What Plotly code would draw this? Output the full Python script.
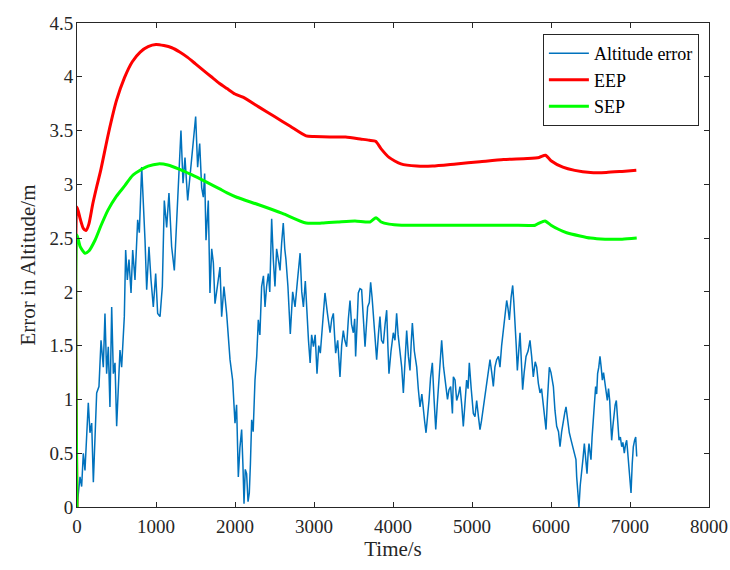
import plotly.graph_objects as go

# ---- Altitude error ----
alt_t = [0, 20, 38, 59, 80, 101, 122, 143, 164, 186, 207, 228, 249, 278, 304, 333, 354, 375, 396, 417,
         439, 460, 481, 502, 523, 544, 565, 599, 616, 637, 658, 684, 705, 734, 768, 789, 819, 840, 861, 882,
         911, 937, 966, 996, 1021, 1051, 1080, 1105, 1135, 1164, 1198, 1232, 1262, 1291, 1316, 1342, 1367, 1401, 1430, 1460,
         1485, 1502, 1527, 1553, 1578, 1599, 1616, 1633, 1662, 1683, 1705, 1726, 1747, 1780, 1810, 1831, 1860, 1894, 1915, 1937,
         1970, 2000, 2020, 2042, 2062, 2084, 2100, 2114, 2130, 2147, 2165, 2181, 2195, 2211, 2230, 2253, 2275, 2295, 2315, 2337,
         2360, 2380, 2400, 2422, 2440, 2464, 2485, 2506, 2527, 2548, 2570, 2590, 2611, 2630, 2645, 2670, 2700, 2730, 2760, 2790,
         2824, 2845, 2866, 2890, 2909, 2930, 2951, 2970, 2993, 3015, 3038, 3060, 3080, 3110, 3139, 3170, 3203, 3225, 3245, 3260,
         3274, 3300, 3329, 3350, 3371, 3390, 3413, 3435, 3456, 3475, 3498, 3515, 3527, 3545, 3561, 3582, 3603, 3625, 3646, 3660,
         3679, 3700, 3717, 3735, 3751, 3775, 3793, 3815, 3835, 3855, 3878, 3900, 3920, 3935, 3949, 3975, 4004, 4025, 4046, 4065,
         4089, 4110, 4131, 4150, 4173, 4195, 4215, 4232, 4245, 4270, 4300, 4320, 4342, 4365, 4384, 4400, 4418, 4440, 4456, 4475,
         4498, 4520, 4541, 4560, 4583, 4600, 4616, 4640, 4667, 4690, 4709, 4730, 4752, 4764, 4785, 4806, 4830, 4848, 4870, 4890,
         4910, 4932, 4950, 4966, 4990, 5017, 5038, 5059, 5080, 5101, 5120, 5143, 5165, 5186, 5210, 5228, 5250, 5270, 5290, 5312,
         5335, 5354, 5375, 5397, 5420, 5439, 5455, 5473, 5495, 5515, 5530, 5544, 5560, 5574, 5590, 5608, 5625, 5641, 5660, 5684,
         5710, 5734, 5755, 5776, 5800, 5819, 5840, 5861, 5880, 5903, 5920, 5937, 5955, 5979, 6000, 6030, 6050, 6072, 6095, 6114,
         6135, 6156, 6175, 6190, 6210, 6232, 6255, 6274, 6295, 6316, 6325, 6340, 6354, 6370, 6388, 6405, 6422, 6440, 6456, 6470,
         6481, 6495, 6506, 6520, 6536, 6550, 6565, 6578, 6590, 6605, 6620, 6635, 6650, 6665, 6684, 6700, 6713, 6728, 6743, 6755,
         6768, 6783, 6798, 6812, 6827, 6845, 6861, 6878, 6895, 6910, 6928, 6943, 6958, 6972, 6987, 7000, 7013, 7028, 7042, 7058,
         7072, 7085]
alt_err = [0.00, 0.12, 0.28, 0.19, 0.50, 0.34, 0.62, 0.97, 0.69, 0.78, 0.23, 0.72, 1.06, 1.12, 1.55, 1.30, 1.80, 1.24, 1.49, 0.93,
           1.86, 1.24, 1.34, 0.75, 1.18, 1.46, 1.30, 1.77, 2.39, 2.11, 2.30, 1.99, 2.39, 2.11, 2.67, 2.55, 3.16, 2.85, 2.48, 2.02,
           2.42, 2.11, 1.86, 2.17, 1.80, 1.77, 2.05, 2.85, 2.60, 2.92, 2.42, 2.20, 2.70, 3.16, 3.50, 3.01, 3.25, 2.85, 3.07, 3.32,
           3.50, 3.63, 3.16, 3.38, 2.97, 2.88, 3.10, 2.48, 2.85, 1.99, 2.40, 2.27, 1.89, 2.10, 2.23, 1.77, 2.05, 1.80, 1.60, 1.37,
           1.18, 0.78, 0.95, 0.28, 0.55, 0.72, 0.40, 0.03, 0.35, 0.31, 0.05, 0.13, 0.40, 0.81, 0.70, 1.18, 1.40, 1.74, 1.60, 2.05,
           2.15, 1.86, 2.05, 2.17, 2.00, 2.68, 2.30, 2.05, 2.40, 2.30, 2.20, 2.45, 2.64, 2.40, 2.30, 2.05, 1.61, 2.00, 1.86, 2.10,
           2.36, 2.00, 1.86, 2.10, 1.80, 1.55, 1.34, 1.60, 1.49, 1.60, 1.24, 1.50, 1.43, 1.70, 1.99, 1.80, 1.62, 1.75, 1.80, 1.60,
           1.43, 1.55, 1.21, 1.50, 1.64, 1.55, 1.49, 1.75, 1.92, 1.70, 1.62, 1.75, 1.40, 1.70, 1.99, 2.03, 2.02, 1.75, 1.49, 1.65,
           1.86, 1.90, 2.09, 1.95, 1.80, 1.55, 1.37, 1.60, 1.77, 1.55, 1.52, 1.70, 1.83, 1.50, 1.24, 1.45, 1.62, 1.55, 1.80, 1.60,
           1.46, 1.30, 1.06, 1.35, 1.64, 1.40, 1.27, 1.55, 1.71, 1.45, 1.30, 1.10, 0.93, 1.05, 0.87, 0.80, 0.69, 0.85, 0.99, 1.20,
           1.34, 1.00, 0.72, 0.95, 1.24, 1.40, 1.55, 1.30, 1.12, 1.00, 1.09, 1.12, 0.87, 1.21, 1.18, 0.99, 1.05, 1.12, 0.95, 0.75,
           0.95, 1.18, 1.10, 1.34, 1.10, 0.87, 0.84, 0.99, 0.85, 0.72, 0.80, 0.93, 1.05, 1.15, 1.30, 1.37, 1.25, 1.12, 1.30, 1.37,
           1.40, 1.30, 1.50, 1.64, 1.80, 1.92, 1.85, 1.74, 1.95, 2.06, 1.90, 1.74, 1.50, 1.27, 1.45, 1.62, 1.35, 1.09, 1.25, 1.40,
           1.45, 1.55, 1.40, 1.21, 1.35, 1.30, 1.15, 1.06, 1.10, 0.96, 0.80, 0.72, 1.00, 1.30, 1.25, 1.12, 0.90, 0.75, 0.70, 0.56,
           0.70, 0.81, 0.88, 0.93, 0.80, 0.69, 0.62, 0.56, 0.50, 0.44, 0.28, 0.15, 0.00, 0.20, 0.31, 0.45, 0.59, 0.45, 0.31, 0.50,
           0.59, 0.50, 0.44, 0.65, 0.81, 0.95, 1.12, 1.05, 1.24, 1.30, 1.40, 1.30, 1.18, 1.25, 1.15, 1.05, 0.99, 1.10, 0.99, 0.80,
           0.62, 0.75, 0.87, 0.95, 0.99, 0.80, 0.62, 0.65, 0.56, 0.60, 0.50, 0.58, 0.62, 0.50, 0.37, 0.25, 0.13, 0.40, 0.56, 0.62,
           0.65, 0.47]

# ---- EEP ----
eep_t = [0, 0, 40, 80, 114, 150, 200, 250, 300, 400, 500, 600, 700, 800, 900, 1000, 1100, 1200, 1300, 1400,
         1500, 1600, 1700, 1800, 1900, 2000, 2100, 2300, 2500, 2700, 2900, 3000, 3200, 3400, 3600, 3700, 3780, 3850, 3950, 4100,
         4300, 4500, 4800, 5100, 5400, 5700, 5850, 5930, 6000, 6150, 6300, 6500, 6700, 6900, 7080]
eep = [0.0, 2.79, 2.68, 2.59, 2.57, 2.63, 2.82, 2.98, 3.13, 3.48, 3.78, 3.99, 4.14, 4.23, 4.28, 4.30, 4.29, 4.27, 4.23, 4.18,
       4.12, 4.06, 4.00, 3.94, 3.89, 3.84, 3.81, 3.72, 3.63, 3.54, 3.45, 3.445, 3.44, 3.44, 3.42, 3.41, 3.40, 3.33, 3.25, 3.19,
       3.17, 3.17, 3.19, 3.21, 3.23, 3.24, 3.25, 3.27, 3.22, 3.16, 3.13, 3.11, 3.11, 3.12, 3.13]

# ---- SEP ----
sep_t = [0, 0, 40, 100, 150, 228, 300, 392, 500, 608, 700, 819, 900, 1028, 1150, 1300, 1450, 1641, 1800, 1900,
         2021, 2300, 2600, 2899, 3100, 3300, 3519, 3709, 3785, 3850, 3950, 4109, 4500, 5000, 5500, 5800, 5850, 5924, 6000, 6100,
         6198, 6367, 6500, 6684, 6900, 7085]
sep = [0.0, 2.53, 2.42, 2.36, 2.38, 2.48, 2.61, 2.76, 2.89, 2.99, 3.08, 3.14, 3.17, 3.19, 3.18, 3.14, 3.09, 3.02, 2.96, 2.92,
       2.88, 2.81, 2.73, 2.64, 2.64, 2.65, 2.66, 2.65, 2.69, 2.65, 2.63, 2.62, 2.62, 2.62, 2.62, 2.62, 2.64, 2.66, 2.62, 2.58,
       2.55, 2.52, 2.50, 2.49, 2.49, 2.50]

x_ticks = [0, 1000, 2000, 3000, 4000, 5000, 6000, 7000, 8000]
y_ticks = [0, 0.5, 1, 1.5, 2, 2.5, 3, 3.5, 4, 4.5]
y_labels = ["0", "0.5", "1", "1.5", "2", "2.5", "3", "3.5", "4", "4.5"]

FONT = "Liberation Serif"
AX = "#262626"

fig = go.Figure()
fig.add_trace(go.Scatter(x=alt_t, y=alt_err, mode="lines", name="Altitude error",
                         line=dict(color="#0072BD", width=1.5)))
fig.add_trace(go.Scatter(x=eep_t, y=eep, mode="lines", name="EEP",
                         line=dict(color="#FF0000", width=3, shape="spline", smoothing=0.6)))
fig.add_trace(go.Scatter(x=sep_t, y=sep, mode="lines", name="SEP",
                         line=dict(color="#00FF00", width=3, shape="spline", smoothing=0.6)))

axis_common = dict(showline=True, linecolor=AX, linewidth=1, mirror="allticks",
                   ticks="inside", ticklen=5, tickcolor=AX, tickwidth=1,
                   showgrid=False, zeroline=False, automargin=False,
                   tickfont=dict(family=FONT, size=19, color=AX))

fig.update_layout(
    width=730, height=570,
    margin=dict(l=77, r=21, t=23, b=63),
    paper_bgcolor="white", plot_bgcolor="white",
    font=dict(family=FONT, size=19, color=AX),
    xaxis=dict(range=[0, 8000], tickvals=x_ticks, ticklabelstandoff=2, **axis_common,
               title=dict(text="Time/s", font=dict(family=FONT, size=21, color=AX), standoff=2)),
    yaxis=dict(range=[0, 4.5], tickvals=y_ticks, ticktext=y_labels, ticklabelstandoff=-1, **axis_common,
               title=dict(text="Error in Altitude/m", font=dict(family=FONT, size=21, color=AX), standoff=8)),
    legend=dict(x=0.984, y=0.977, xanchor="right", yanchor="top",
                bgcolor="white", bordercolor=AX, borderwidth=1,
                font=dict(family=FONT, size=18, color="black"),
                tracegroupgap=0, itemwidth=40),
    showlegend=True,
)

fig.write_html("out.html")
